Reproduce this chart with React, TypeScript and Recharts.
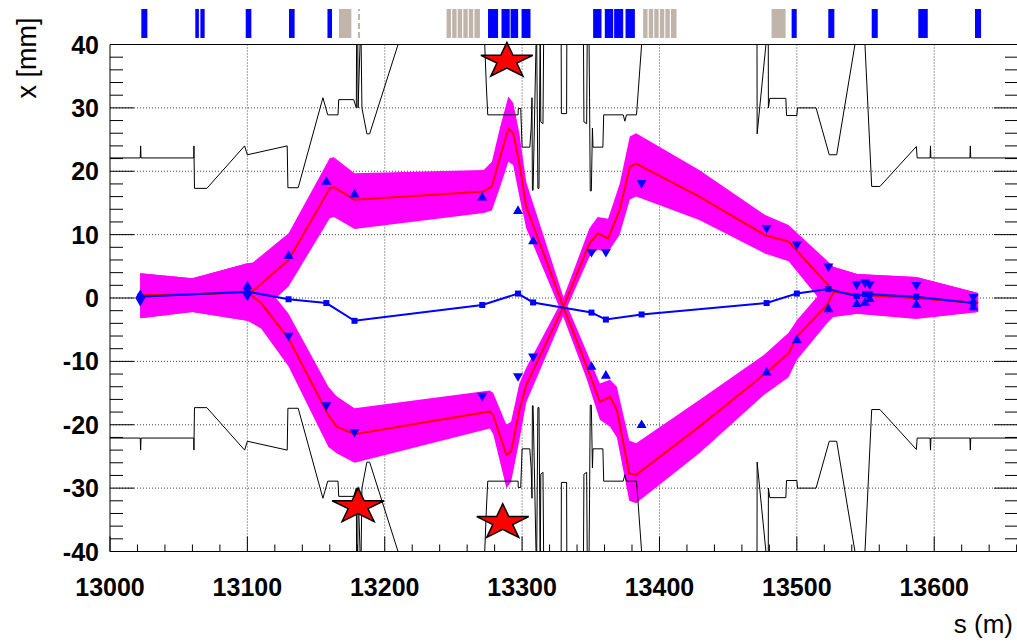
import React from 'react'
import {
    ComposedChart, Line, Area, Scatter, XAxis, YAxis, CartesianGrid, ReferenceArea, ReferenceLine,
} from 'recharts'

// ─── Axes ────────────────────────────────────────────────────────────

const S_DOMAIN: [number, number] = [13000, 13661]
const X_DOMAIN: [number, number] = [-40, 40]
const S_LABELS = [13000, 13100, 13200, 13300, 13400, 13500, 13600]
const X_LABELS = [-40, -30, -20, -10, 0, 10, 20, 30, 40]
const S_TICKS = Array.from({ length: 34 }, (_, i) => 13000 + i * 20)
const X_TICKS = Array.from({ length: 41 }, (_, i) => -40 + i * 2)
const S_GRID = S_LABELS.slice(1)
const X_GRID = X_LABELS.slice(1, -1)

// ─── Beam pipe aperture (upper edge, the lower edge mirrors it) ──────

const apertureUpper: [number, number][] = [
    [13000, 22.1], [13022, 22.1], [13022.3, 24.0], [13022.6, 22.1], [13061, 22.1], [13061.1, 24.0],
    [13061.5, 17.3], [13070.5, 17.3], [13098, 24.0], [13100, 22.6], [13129, 24.0], [13129.5, 17.4],
    [13137, 17.4], [13155, 31.6], [13158.5, 28.9], [13166, 28.9], [13166.5, 31.3], [13177.4, 31.3],
    [13179.3, 30.0], [13179.6, 44], [13180.3, 44], [13180.6, 30.0], [13182.6, 44], [13183.4, 30.0],
    [13187, 25.9], [13189, 25.9], [13209.7, 40], [13213, 46], [13270, 46], [13272.8, 40],
    [13274, 33.3], [13275, 28.9], [13297.1, 28.9], [13297.2, 29.9], [13299, 29.9], [13300, 23.8],
    [13305.6, 23.8], [13306.6, 26.8], [13307.2, 31.6], [13307.5, 17.0], [13308, 17.0], [13310.5, 44],
    [13311.5, 17.3], [13312.3, 17.3], [13313.2, 44], [13313.6, 27.8], [13315.2, 27.5], [13315.8, 44],
    [13328.4, 44], [13328.6, 29.1], [13332.4, 29.1], [13332.6, 44], [13344.6, 44], [13345, 27.8],
    [13347, 27.5], [13347.5, 44], [13348.6, 44], [13349.1, 31.6], [13349.6, 16.9], [13350.4, 16.9],
    [13351.2, 26.8], [13351.6, 23.8], [13358.8, 23.8], [13359.4, 28.9], [13373.6, 28.9], [13374.8, 27.9],
    [13376, 28.9], [13383.3, 28.9], [13387, 40], [13390, 46], [13468, 46], [13471, 40],
    [13471.1, 25.9], [13477.5, 40], [13478.5, 46], [13479.2, 40], [13479.3, 30.0], [13480.3, 31.5],
    [13492, 31.5], [13492.5, 28.8], [13500, 28.8], [13500.5, 30.0], [13514, 30.0], [13523.6, 22.6],
    [13529, 22.6], [13542.3, 40], [13545.9, 46], [13549.6, 40], [13554.5, 17.6], [13560.5, 17.6],
    [13587, 23.9], [13587.6, 22.1], [13597, 22.1], [13597.3, 24.0], [13597.6, 22.1], [13626, 22.1],
    [13626.3, 24.0], [13626.6, 22.1], [13661, 22.1],
]

// ─── Trajectory A (upper on the left, lower on the right) ────────────

const trajAS = [13022, 13060, 13100, 13104, 13130, 13160, 13163, 13178, 13272, 13278, 13284, 13290, 13293.5, 13298, 13303, 13330, 13347, 13356.6, 13364, 13369, 13378, 13383, 13429, 13476, 13494, 13500, 13522, 13527, 13544, 13587, 13632]
const trajAX = [0.4, 0.6, 0.9, 1.1, 6.0, 17.3, 17.5, 15.5, 16.8, 17.6, 22.3, 26.7, 26.0, 21.2, 14.4, -1.4, -10.8, -16.4, -15.6, -17.7, -27.7, -27.9, -20.3, -12.1, -8.7, -6.1, -1.1, 1.0, 0.5, 0.0, -0.8]
const trajALow = [-3.2, -2.2, -3.6, -3.4, 1.8, 12.6, 12.8, 10.9, 13.4, 13.8, 17.5, 21.5, 21.0, 16.0, 11.0, -3.0, -12.8, -19.2, -20.3, -22.0, -32.0, -32.4, -24.5, -15.3, -12.5, -9.8, -4.0, -2.9, -2.5, -3.3, -2.2]
const trajAHigh = [3.9, 3.1, 5.5, 5.6, 10.2, 22.1, 22.2, 19.7, 20.2, 21.5, 27.0, 31.8, 30.8, 26.0, 18.3, 0.2, -8.5, -13.5, -12.9, -14.0, -22.5, -22.9, -16.1, -9.0, -5.5, -3.5, 2.0, 4.9, 3.8, 3.3, 0.8]

// ─── Trajectory B (lower on the left, upper on the right) ────────────

const trajBS = [13022, 13060, 13100, 13110, 13130, 13159, 13165, 13178, 13276.5, 13279, 13288.6, 13292, 13298, 13303, 13330, 13349, 13355, 13362.6, 13371, 13378.4, 13383, 13429, 13477, 13494, 13527, 13544, 13587, 13632]
const trajBX = [0.4, 0.6, 0.9, -0.8, -6.4, -18.5, -20.3, -21.5, -17.9, -18.5, -24.8, -24.2, -17.7, -13.7, -1.4, 8.6, 10.2, 9.4, 13.9, 20.7, 21.2, 16.0, 9.9, 8.9, 1.0, 0.5, 0.0, -0.8]
const trajBLow = [-3.2, -2.2, -3.6, -4.8, -10.8, -23.5, -24.5, -26.0, -20.6, -21.5, -30.0, -29.0, -22.5, -16.5, -2.8, 6.5, 7.6, 7.2, 10.0, 15.5, 16.0, 12.3, 7.0, 5.8, -3.0, -2.5, -3.2, -2.2]
const trajBHigh = [3.9, 3.1, 5.5, 3.0, -2.5, -14.0, -15.5, -17.4, -14.6, -15.0, -20.0, -19.5, -13.5, -11.0, 0.0, 11.0, 12.8, 12.5, 18.0, 25.5, 26.0, 20.2, 13.1, 11.5, 4.9, 3.8, 3.3, 0.8]

// ─── BPM readings ────────────────────────────────────────────────────

const bpmS = [13022, 13100, 13130, 13157.5, 13178, 13271, 13297, 13308, 13350.5, 13361, 13387, 13478, 13500, 13523, 13543.6, 13549.6, 13553, 13587, 13628.5]
const orbitX = [0.2, 1.0, -0.2, -0.8, -3.6, -1.1, 0.7, -0.7, -2.3, -3.4, -2.6, -0.8, 0.7, 1.4, 0.3, 0.6, 0.6, 0.2, -0.8]
const bpmAX = [0.6, 2.0, 6.8, 18.5, 16.5, 16.0, 13.9, 9.1, -10.7, -12.1, -19.9, -11.6, -6.5, -1.6, -0.8, -0.6, 0.0, -0.9, -1.3]
const bpmBX = [-0.6, 0.2, -6.1, -17.1, -21.3, -15.6, -12.5, -9.4, 7.1, 7.1, 18.0, 10.9, 8.3, 4.8, 2.0, 2.3, 2.0, 1.9, 0.0]

// ─── Loss locations ──────────────────────────────────────────────────

const lossS = [13288.9, 13180.6, 13285.9]
const lossX = [37.4, -32.9, -35.4]

// ─── Lattice strip above the frame ───────────────────────────────────

const quadSpans: [number, number][] = [
    [13022.8, 13027.2], [13062.1, 13064.7], [13065.8, 13068.9], [13098.8, 13102.9], [13130.3, 13134.4],
    [13158.3, 13161.6], [13275.2, 13282.5], [13285.0, 13291.0], [13291.6, 13297.1], [13299.6, 13306.1],
    [13351.7, 13357.8], [13360.2, 13366.3], [13367.0, 13373.6], [13375.3, 13382.1], [13496.2, 13499.9],
    [13522.9, 13527.3], [13554.5, 13558.9], [13588.4, 13595.3], [13629.7, 13634.1],
]
const collSpans: [number, number][] = [
    [13166.7, 13175.7],
    [13245.0, 13248.2], [13249.1, 13252.3], [13253.1, 13256.3], [13257.2, 13260.4], [13261.2, 13264.4], [13265.3, 13269.3],
    [13388.1, 13391.3], [13392.2, 13395.4], [13396.2, 13399.4], [13400.3, 13403.5], [13404.3, 13407.5], [13408.4, 13412.4],
    [13481.6, 13491.8],
]
const markerS = 13181.3
// strip band, in the x units of the right axis (sits above the 40 mm frame)
const STRIP: [number, number] = [41.03, 45.6]

// ─── Derived series ──────────────────────────────────────────────────

const pts = (s: number[], x: number[]) => s.map((v, i) => ({ s: v, x: x[i] }))
const band = (s: number[], lo: number[], hi: number[]) => s.map((v, i) => ({ s: v, band: [lo[i], hi[i]] }))

const apertureTop = apertureUpper.map(([s, x]) => ({ s, x }))
const apertureBottom = apertureUpper.map(([s, x]) => ({ s, x: -x }))
const trajA = pts(trajAS, trajAX)
const trajB = pts(trajBS, trajBX)
const bandA = band(trajAS, trajALow, trajAHigh)
const bandB = band(trajBS, trajBLow, trajBHigh)
const orbit = pts(bpmS, orbitX)
const bpmA = pts(bpmS, bpmAX)
const bpmB = pts(bpmS, bpmBX)
const losses = pts(lossS, lossX)

// ─── Styling ─────────────────────────────────────────────────────────

const FONT = '"Liberation Sans", Arial, Helvetica, sans-serif'
const BLUE = '#0000ff'
const MAGENTA = '#ff00ff'
const RED = '#ff0000'
const TAUPE = '#bfb5ab'

const W = 1090
const H = 643
const MARGIN = { top: 14.5, right: 12, bottom: 61.5, left: 50 }

// ticks drawn inside the frame, ROOT style
function BottomTick(p: any) {
    const v = p.payload.value
    const major = v % 100 === 0
    return (
        <g>
            <line x1={p.x} x2={p.x} y1={p.y} y2={p.y - (major ? 15 : 7)} stroke="#000" />
            {major && (
                <text x={p.x} y={p.y + 44} textAnchor="middle" fontFamily={FONT} fontWeight="bold" fontSize={25} fill="#000">{v}</text>
            )}
        </g>
    )
}

function TopTick(p: any) {
    const major = p.payload.value % 100 === 0
    return <line x1={p.x} x2={p.x} y1={p.y} y2={p.y + (major ? 15 : 7)} stroke="#000" />
}

function LeftTick(p: any) {
    const v = p.payload.value
    const major = v % 10 === 0
    return (
        <g>
            <line x1={p.x} x2={p.x + (major ? 24 : 13)} y1={p.y} y2={p.y} stroke="#000" />
            {major && (
                <text x={p.x - 11} y={p.y + 9} textAnchor="end" fontFamily={FONT} fontWeight="bold" fontSize={25} fill="#000">{v}</text>
            )}
        </g>
    )
}

function RightTick(p: any) {
    const major = p.payload.value % 10 === 0
    return <line x1={p.x} x2={p.x - (major ? 24 : 13)} y1={p.y} y2={p.y} stroke="#000" />
}

function TriangleUp(p: any) {
    const { cx, cy } = p
    return <path d={`M${cx},${cy - 4.6} L${cx + 5},${cy + 4} L${cx - 5},${cy + 4} Z`} fill={BLUE} />
}

function TriangleDown(p: any) {
    const { cx, cy } = p
    return <path d={`M${cx},${cy + 4.6} L${cx + 5},${cy - 4} L${cx - 5},${cy - 4} Z`} fill={BLUE} />
}

function Star(p: any) {
    const { cx, cy } = p
    const rx = 27.3
    const ry = 18.6
    const d = Array.from({ length: 10 }, (_, i) => {
        const a = -Math.PI / 2 + (i * Math.PI) / 5
        const r = i % 2 === 0 ? 1 : 0.382
        return `${i === 0 ? 'M' : 'L'}${cx + rx * r * Math.cos(a)},${cy + ry * r * Math.sin(a)}`
    }).join(' ')
    return <path d={`${d} Z`} fill={RED} stroke="#000" strokeWidth={1.5} strokeLinejoin="miter" />
}

function OrbitSquare(p: any) {
    return <rect key={`sq-${p.index}`} x={p.cx - 3} y={p.cy - 3} width={6} height={6} fill={BLUE} />
}

// ─── Component ───────────────────────────────────────────────────────

function TrajectoryChart() {
    return (
        <ComposedChart width={W} height={H} margin={MARGIN}>
            <CartesianGrid
                xAxisId="bottom"
                yAxisId="left"
                stroke="#444"
                strokeDasharray="1 2"
                horizontalValues={X_GRID}
                verticalValues={S_GRID}
            />
            <XAxis
                xAxisId="bottom" dataKey="s" type="number" domain={S_DOMAIN} ticks={S_TICKS} interval={0}
                tickSize={0} tickMargin={0} tickLine={false} height={30} axisLine={{ stroke: '#000' }} tick={BottomTick}
            />
            <XAxis
                xAxisId="top" orientation="top" type="number" domain={S_DOMAIN} ticks={S_TICKS} interval={0}
                tickSize={0} tickMargin={0} tickLine={false} height={30} axisLine={{ stroke: '#000' }} tick={TopTick}
            />
            <YAxis
                yAxisId="left" dataKey="x" type="number" domain={X_DOMAIN} allowDataOverflow ticks={X_TICKS} interval={0}
                tickSize={0} tickMargin={0} tickLine={false} width={60} axisLine={{ stroke: '#000' }} tick={LeftTick}
            />
            <YAxis
                yAxisId="right" orientation="right" dataKey="x" type="number" domain={X_DOMAIN} ticks={X_TICKS} interval={0}
                tickSize={0} tickMargin={0} tickLine={false} width={60} axisLine={{ stroke: '#000' }} tick={RightTick}
            />

            {collSpans.map(([a, b], i) => (
                <ReferenceArea
                    key={`c${i}`} xAxisId="bottom" yAxisId="right" x1={a} x2={b} y1={STRIP[0]} y2={STRIP[1]}
                    ifOverflow="visible" fill={TAUPE} fillOpacity={1} stroke="none"
                />
            ))}
            {quadSpans.map(([a, b], i) => (
                <ReferenceArea
                    key={`q${i}`} xAxisId="bottom" yAxisId="right" x1={a} x2={b} y1={STRIP[0]} y2={STRIP[1]}
                    ifOverflow="visible" fill={BLUE} fillOpacity={1} stroke="none"
                />
            ))}
            <ReferenceLine
                xAxisId="bottom" yAxisId="right" ifOverflow="visible"
                segment={[{ x: markerS, y: STRIP[0] }, { x: markerS, y: STRIP[1] }]}
                stroke={TAUPE} strokeWidth={2} strokeDasharray="6 3"
            />

            <Area data={bandA} dataKey="band" xAxisId="bottom" yAxisId="left" type="linear" stroke="none" fill={MAGENTA} fillOpacity={1} isAnimationActive={false} />
            <Area data={bandB} dataKey="band" xAxisId="bottom" yAxisId="left" type="linear" stroke="none" fill={MAGENTA} fillOpacity={1} isAnimationActive={false} />

            <Line data={apertureTop} dataKey="x" xAxisId="bottom" yAxisId="left" type="linear" stroke="#000" strokeWidth={1} dot={false} isAnimationActive={false} />
            <Line data={apertureBottom} dataKey="x" xAxisId="bottom" yAxisId="left" type="linear" stroke="#000" strokeWidth={1} dot={false} isAnimationActive={false} />

            <Line data={trajA} dataKey="x" xAxisId="bottom" yAxisId="left" type="linear" stroke={RED} strokeWidth={2} dot={false} isAnimationActive={false} />
            <Line data={trajB} dataKey="x" xAxisId="bottom" yAxisId="left" type="linear" stroke={RED} strokeWidth={2} dot={false} isAnimationActive={false} />

            <Line data={orbit} dataKey="x" xAxisId="bottom" yAxisId="left" type="linear" stroke={BLUE} strokeWidth={2} dot={OrbitSquare} isAnimationActive={false} />

            <Scatter data={bpmA} dataKey="x" xAxisId="bottom" yAxisId="left" shape={TriangleUp} isAnimationActive={false} />
            <Scatter data={bpmB} dataKey="x" xAxisId="bottom" yAxisId="left" shape={TriangleDown} isAnimationActive={false} />

            <Scatter data={losses} dataKey="x" xAxisId="bottom" yAxisId="right" shape={Star} isAnimationActive={false} />
        </ComposedChart>
    )
}

export default function App() {
    return (
        <div style={{ position: 'absolute', left: 0, top: 0, width: 1017, height: 643, overflow: 'hidden', background: '#fff', fontFamily: FONT }}>
            <div style={{ position: 'absolute', left: 0, top: 0 }}>
                <TrajectoryChart />
            </div>
            <div style={{ position: 'absolute', left: 27, top: 58, transform: 'translate(-50%, -50%) rotate(-90deg)', fontSize: 27, whiteSpace: 'nowrap', lineHeight: 1 }}>
                x [mm]
            </div>
            <div style={{ position: 'absolute', right: 4, top: 611, fontSize: 26, whiteSpace: 'nowrap', lineHeight: 1 }}>
                s (m)
            </div>
        </div>
    )
}
